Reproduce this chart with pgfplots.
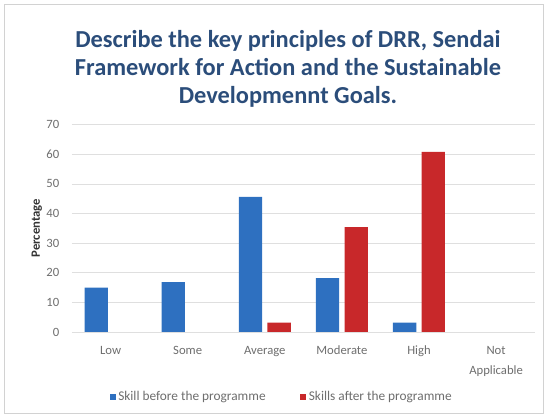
\documentclass[border=0pt]{standalone}
\usepackage{fontspec}
\setmainfont{Carlito}
\usepackage{pgfplots}
\pgfplotsset{compat=1.18}
\definecolor{ttl}{RGB}{43,77,122}
\definecolor{bblue}{RGB}{46,112,192}
\definecolor{bred}{RGB}{200,40,42}
\definecolor{tk}{RGB}{110,110,110}
\begin{document}
\begin{tikzpicture}
\useasboundingbox (-54pt,-63.75pt) rectangle (356.25pt,249pt);
\draw[gray!35] (-51pt,-61pt) rectangle (353.5pt,246pt);
\begin{axis}[
  at={(0,0)}, anchor=south west,
  scale only axis, width=347pt, height=155.5pt,
  ybar=4pt, bar width=17.5pt,
  xmin=-0.5, xmax=5.5, ymin=0, ymax=70,
  xtick={0,1,2,3,4,5},
  xticklabels={Low,Some,Average,Moderate,High,{Not\\Applicable}},
  xticklabel style={align=center, font=\fontsize{9.5}{15}\selectfont, text=tk, yshift=-7pt},
  ytick={0,10,...,70},
  yticklabel style={font=\fontsize{9.5}{11}\selectfont, text=tk, xshift=-6pt},
  /pgf/number format/assume math mode=true,
  major tick length=0pt,
  axis line style={draw=none},
  ymajorgrids, grid style={gray!25, line width=0.6pt},
  ylabel={\textbf{Percentage}},
  ylabel style={font=\fontsize{9.5}{11}\selectfont, text=black!80, at={(axis description cs:-0.076,0.5)}, anchor=center},
  legend style={at={(0.454,-0.315)}, anchor=center, draw=none,
    font=\fontsize{10}{11}\selectfont, text=tk, legend columns=2,
    /tikz/every even column/.append style={column sep=24pt}},
  legend image code/.code={\fill[#1] (0pt,-2.2pt) rectangle (4.4pt,2.2pt);},
]
\addplot[fill=bblue, draw=none] coordinates {(0,15) (1,16.8) (2,45.6) (3,18.2) (4,3.2)};
\addplot[fill=bred, draw=none] coordinates {(2,3.2) (3,35.4) (4,60.8)};
\legend{Skill before the programme, Skills after the programme}
\end{axis}
\node[align=center, text=ttl, font=\fontsize{18.3}{21}\selectfont\bfseries] at (162pt,197.5pt)
 {Describe the key principles of DRR, Sendai\\Framework for Action and the Sustainable\\Developmennt Goals.};
\end{tikzpicture}
\end{document}
